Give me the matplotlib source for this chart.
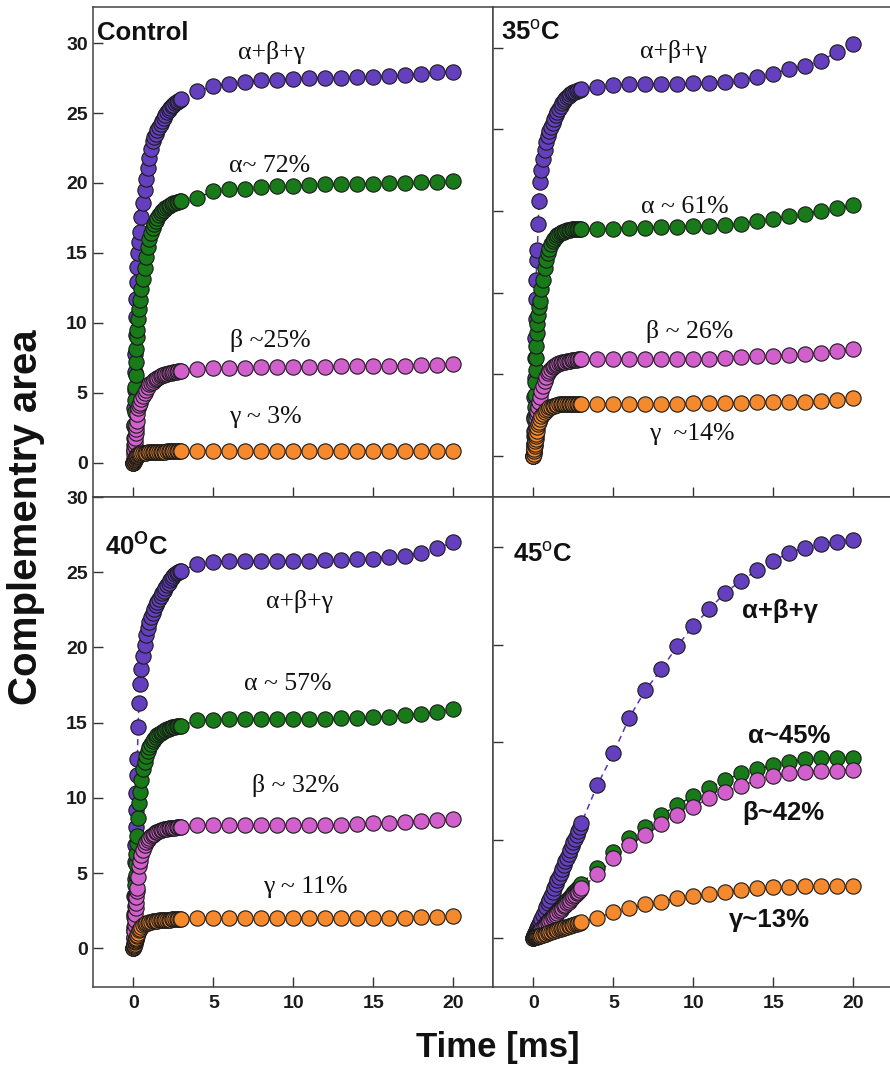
import matplotlib.pyplot as plt

plt.rcParams['font.family'] = ['Liberation Sans', 'DejaVu Sans']
plt.rcParams['mathtext.fontset'] = 'custom'
plt.rcParams['mathtext.rm'] = 'Liberation Sans'
plt.rcParams['mathtext.bf'] = 'Liberation Sans:bold'

# time axis: dense sampling up to 3 ms, then every 1 ms
t_fast = [0.00, 0.02, 0.04, 0.06, 0.08, 0.10, 0.12, 0.14, 0.16, 0.18, 0.20, 0.25, 0.30, 0.35, 0.40,
          0.50, 0.60, 0.70, 0.80, 0.90, 1.00, 1.10, 1.20, 1.30, 1.40, 1.50, 1.60, 1.70, 1.80, 1.90,
          2.00, 2.10, 2.20, 2.30, 2.40, 2.50, 2.60, 2.70, 2.80, 2.90, 3.00]
t_slow = [4, 5, 6, 7, 8, 9, 10, 11, 12, 13, 14, 15, 16, 17, 18, 19, 20]

# Control
ctrl_tot_fast = [0, 1.3, 2.6, 3.9, 5.2, 6.5, 7.8, 9.1, 10.4, 11.7, 12.9, 14.0, 15.0, 15.8, 16.5, 17.6, 18.6, 19.5, 20.3, 21.1,
                 21.8, 22.45, 23.0, 23.25, 23.5, 23.75, 24.0, 24.25, 24.45, 24.65, 24.85, 25.05, 25.2, 25.35, 25.5, 25.6,
                 25.7, 25.78, 25.85, 25.93, 26.0]
ctrl_tot_slow = [26.6, 26.9, 27.1, 27.25, 27.33, 27.38, 27.45, 27.5, 27.5, 27.52, 27.55, 27.6, 27.63, 27.7, 27.8, 27.9, 27.95]
ctrl_a_fast = [0, 0.9, 1.8, 2.7, 3.6, 4.5, 5.4, 6.3, 7.2, 8.1, 9.0, 9.5, 10.3, 11.0, 11.6, 12.4, 13.1, 13.9, 14.7, 15.4,
               16.0, 16.45, 16.8, 17.05, 17.3, 17.5, 17.7, 17.85, 18.0, 18.1, 18.2, 18.28, 18.35, 18.43, 18.5, 18.55,
               18.6, 18.63, 18.65, 18.68, 18.7]
ctrl_a_slow = [18.95, 19.4, 19.55, 19.6, 19.7, 19.8, 19.8, 19.85, 19.9, 19.9, 19.95, 19.95, 20.0, 20.0, 20.05, 20.08, 20.15]
ctrl_b_fast = [0, 0.3, 0.6, 0.9, 1.2, 1.5, 1.8, 2.1, 2.4, 2.7, 3.0, 3.5, 3.9, 4.1, 4.3, 4.55, 4.8, 5.0, 5.2, 5.4,
               5.6, 5.7, 5.8, 5.9, 6.0, 6.08, 6.15, 6.2, 6.25, 6.29, 6.33, 6.37, 6.4, 6.43, 6.45, 6.48,
               6.5, 6.52, 6.54, 6.56, 6.57]
ctrl_b_slow = [6.7, 6.75, 6.8, 6.8, 6.82, 6.84, 6.85, 6.86, 6.87, 6.88, 6.9, 6.91, 6.92, 6.94, 6.96, 6.99, 7.03]
ctrl_g_fast = [0, 0.05, 0.1, 0.15, 0.2, 0.25, 0.3, 0.35, 0.4, 0.45, 0.5, 0.55, 0.6, 0.63, 0.65, 0.68, 0.7, 0.72, 0.73, 0.74,
               0.75, 0.76, 0.77, 0.775, 0.78, 0.785, 0.79, 0.795, 0.8, 0.8, 0.8, 0.805, 0.81, 0.81, 0.81, 0.815,
               0.82, 0.82, 0.82, 0.82, 0.82]
ctrl_g_slow = [0.84, 0.85, 0.85, 0.85, 0.85, 0.85, 0.85, 0.85, 0.85, 0.85, 0.85, 0.86, 0.86, 0.86, 0.86, 0.86, 0.87]

# 35 C
t35_tot_fast = [0, 1.2, 2.4, 3.6, 4.8, 6.0, 7.2, 8.4, 9.6, 10.8, 12.0, 12.6, 14.2, 15.6, 16.8, 17.5, 18.2, 18.7, 19.2, 19.6,
                19.9, 20.15, 20.4, 20.65, 20.85, 21.05, 21.25, 21.45, 21.6, 21.73, 21.85, 21.95, 22.05, 22.13, 22.2, 22.25,
                22.3, 22.35, 22.4, 22.43, 22.45]
t35_tot_slow = [22.6, 22.7, 22.75, 22.75, 22.75, 22.75, 22.8, 22.82, 22.9, 23.0, 23.2, 23.4, 23.7, 23.9, 24.2, 24.75, 25.2]
t35_a_fast = [0, 0.75, 1.5, 2.25, 3.0, 3.75, 4.5, 5.25, 6.0, 6.75, 7.5, 8.1, 8.65, 9.1, 9.5, 10.2, 10.8, 11.5, 12.0, 12.4,
              12.7, 12.95, 13.15, 13.3, 13.4, 13.5, 13.6, 13.65, 13.7, 13.74, 13.78, 13.81, 13.83, 13.85, 13.87, 13.875,
              13.88, 13.885, 13.89, 13.895, 13.9]
t35_a_slow = [13.9, 13.92, 13.97, 13.98, 14.0, 14.02, 14.07, 14.1, 14.15, 14.23, 14.36, 14.5, 14.7, 14.83, 15.0, 15.15, 15.36]
t35_b_fast = [0, 0.25, 0.5, 0.75, 1.0, 1.25, 1.5, 1.75, 2.0, 2.25, 2.5, 2.75, 3.0, 3.3, 3.6, 4.0, 4.3, 4.6, 4.85, 5.05,
              5.2, 5.35, 5.45, 5.52, 5.58, 5.63, 5.67, 5.7, 5.73, 5.76, 5.78, 5.8, 5.82, 5.84, 5.86, 5.875,
              5.89, 5.9, 5.91, 5.92, 5.93]
t35_b_slow = [5.93, 5.95, 5.95, 5.95, 5.95, 5.95, 5.95, 5.95, 6.0, 6.05, 6.1, 6.15, 6.2, 6.25, 6.3, 6.4, 6.56]
t35_g_fast = [0, 0.15, 0.3, 0.45, 0.6, 0.75, 0.9, 1.05, 1.2, 1.35, 1.5, 1.75, 1.95, 2.1, 2.25, 2.45, 2.6, 2.72, 2.82, 2.9,
              2.97, 3.02, 3.06, 3.09, 3.12, 3.14, 3.16, 3.17, 3.18, 3.19, 3.2, 3.2, 3.2, 3.2, 3.2, 3.2,
              3.2, 3.2, 3.2, 3.2, 3.2]
t35_g_slow = [3.2, 3.2, 3.2, 3.2, 3.21, 3.21, 3.22, 3.22, 3.24, 3.27, 3.28, 3.3, 3.32, 3.33, 3.35, 3.4, 3.58]

# 40 C
t40_tot_fast = [0, 1.15, 2.3, 3.45, 4.6, 5.75, 6.9, 8.05, 9.2, 10.35, 11.5, 12.6, 14.7, 16.3, 17.6, 18.6, 19.4, 20.15, 20.8, 21.3,
                21.7, 22.0, 22.3, 22.55, 22.8, 23.0, 23.2, 23.4, 23.6, 23.78, 23.95, 24.13, 24.3, 24.45, 24.6, 24.73,
                24.85, 24.93, 25.0, 25.05, 25.1]
t40_tot_slow = [25.55, 25.7, 25.75, 25.75, 25.75, 25.75, 25.75, 25.75, 25.78, 25.8, 25.85, 25.9, 26.0, 26.1, 26.3, 26.6, 27.0]
t40_a_fast = [0, 0.7, 1.4, 2.1, 2.8, 3.5, 4.2, 4.9, 5.6, 6.3, 7.0, 7.45, 8.67, 9.67, 10.4, 11.2, 11.9, 12.4, 12.8, 13.1,
              13.35, 13.55, 13.75, 13.9, 14.05, 14.15, 14.25, 14.33, 14.4, 14.45, 14.5, 14.55, 14.6, 14.64, 14.68, 14.71,
              14.74, 14.76, 14.78, 14.79, 14.8]
t40_a_slow = [15.17, 15.2, 15.25, 15.25, 15.25, 15.25, 15.25, 15.25, 15.25, 15.28, 15.3, 15.35, 15.4, 15.5, 15.6, 15.7, 15.93]
t40_b_fast = [0, 0.38, 0.76, 1.14, 1.52, 1.9, 2.28, 2.66, 3.04, 3.42, 3.8, 4.0, 4.77, 5.44, 5.8, 6.2, 6.55, 6.85, 7.05, 7.22,
              7.35, 7.45, 7.55, 7.63, 7.7, 7.75, 7.8, 7.84, 7.88, 7.91, 7.94, 7.96, 7.98, 8.0, 8.01, 8.02,
              8.03, 8.04, 8.05, 8.06, 8.07]
t40_b_slow = [8.2, 8.2, 8.2, 8.2, 8.2, 8.2, 8.2, 8.2, 8.2, 8.2, 8.25, 8.33, 8.36, 8.4, 8.45, 8.5, 8.6]
t40_g_fast = [0, 0.08, 0.16, 0.24, 0.32, 0.4, 0.48, 0.56, 0.64, 0.72, 0.8, 0.9, 1.05, 1.2, 1.3, 1.45, 1.55, 1.62, 1.67, 1.71,
              1.74, 1.77, 1.79, 1.81, 1.83, 1.85, 1.86, 1.87, 1.88, 1.89, 1.9, 1.905, 1.91, 1.915, 1.92, 1.925,
              1.93, 1.93, 1.93, 1.935, 1.94]
t40_g_slow = [2.0, 2.0, 2.0, 2.0, 2.0, 2.0, 2.0, 2.0, 2.0, 2.0, 2.02, 2.02, 2.03, 2.04, 2.05, 2.1, 2.15]

# 45 C
t45_tot_fast = [0, 0.04, 0.08, 0.12, 0.16, 0.2, 0.23, 0.27, 0.31, 0.35, 0.39, 0.49, 0.59, 0.68, 0.78, 0.98, 1.17, 1.37, 1.56, 1.76,
                1.95, 2.15, 2.34, 2.54, 2.73, 2.93, 3.12, 3.32, 3.51, 3.71, 3.9, 4.1, 4.29, 4.49, 4.68, 4.88,
                5.07, 5.27, 5.46, 5.66, 5.86]
t45_tot_slow = [7.82, 9.44, 11.27, 12.67, 13.74, 14.94, 15.96, 16.83, 17.67, 18.28, 18.83, 19.3, 19.7, 19.97, 20.16, 20.28, 20.37]
t45_a_fast = [0, 0.02, 0.04, 0.05, 0.07, 0.09, 0.11, 0.13, 0.15, 0.16, 0.18, 0.23, 0.27, 0.32, 0.36, 0.46, 0.55, 0.64, 0.73, 0.82,
              0.91, 1.0, 1.09, 1.18, 1.27, 1.37, 1.46, 1.55, 1.64, 1.73, 1.82, 1.91, 2.0, 2.09, 2.18, 2.28,
              2.37, 2.46, 2.55, 2.64, 2.73]
t45_a_slow = [3.58, 4.4, 5.09, 5.68, 6.28, 6.79, 7.26, 7.68, 8.07, 8.42, 8.62, 8.84, 9.01, 9.13, 9.18, 9.22, 9.22]
t45_b_fast = [0, 0.02, 0.03, 0.05, 0.07, 0.08, 0.1, 0.12, 0.13, 0.15, 0.17, 0.21, 0.25, 0.3, 0.34, 0.42, 0.51, 0.59, 0.67, 0.76,
              0.84, 0.93, 1.01, 1.1, 1.18, 1.27, 1.35, 1.43, 1.52, 1.6, 1.69, 1.77, 1.85, 1.94, 2.02, 2.11,
              2.19, 2.28, 2.36, 2.45, 2.53]
t45_b_slow = [3.24, 4.06, 4.75, 5.26, 5.8, 6.28, 6.71, 7.14, 7.48, 7.77, 8.07, 8.28, 8.42, 8.5, 8.55, 8.55, 8.59]
t45_g_fast = [0, 0.01, 0.01, 0.02, 0.02, 0.03, 0.03, 0.04, 0.04, 0.05, 0.05, 0.07, 0.08, 0.09, 0.11, 0.13, 0.16, 0.19, 0.21, 0.24,
              0.27, 0.29, 0.32, 0.35, 0.37, 0.4, 0.43, 0.45, 0.48, 0.51, 0.53, 0.56, 0.59, 0.61, 0.64, 0.67,
              0.69, 0.72, 0.75, 0.77, 0.8]
t45_g_slow = [1.02, 1.3, 1.5, 1.71, 1.84, 2.02, 2.13, 2.24, 2.36, 2.44, 2.53, 2.58, 2.61, 2.65, 2.65, 2.65, 2.65]

fill_cols = ['#6440bf', '#187a18', '#d260cc', '#f5892d']
line_cols = ['#5a36b4', '#0c3d0c', '#7a2a76', '#6e3a0c']

W, H = 890, 1073
fig = plt.figure(figsize=(W / 100, H / 100), dpi=100)

def box(x0, y0, x1, y1):
    return [x0 / W, 1 - y1 / H, (x1 - x0) / W, (y1 - y0) / H]

panels = [
    dict(rect=box(93.3, 6.7, 493.4, 497), ylim=(-2.45, 32.6), yticks=[0, 5, 10, 15, 20, 25, 30],
         left=True, bottom=False,
         series=[(ctrl_tot_fast, ctrl_tot_slow), (ctrl_a_fast, ctrl_a_slow),
                 (ctrl_b_fast, ctrl_b_slow), (ctrl_g_fast, ctrl_g_slow)],
         title=('Control', -2.25, 30.2),
         labels=[('α+β+γ', 8.64, 28.86), ('α~ 72%', 8.54, 20.8), ('β ~25%', 8.54, 8.3), ('γ ~ 3%', 8.23, 2.82)],
         serif=True),
    dict(rect=box(493.4, 6.7, 893.4, 497), ylim=(-2.51, 27.5), yticks=[0, 5, 10, 15, 20, 25],
         left=False, bottom=False,
         series=[(t35_tot_fast, t35_tot_slow), (t35_a_fast, t35_a_slow),
                 (t35_b_fast, t35_b_slow), (t35_g_fast, t35_g_slow)],
         title=(r'35$^{\mathrm{o}}$C', -2.05, 25.5),
         labels=[('α+β+γ', 8.77, 24.35), ('α ~ 61%', 9.46, 14.86), ('β ~ 26%', 9.74, 7.2), ('γ  ~14%', 9.9, 0.98)],
         serif=True),
    dict(rect=box(93.3, 497, 493.4, 986.7), ylim=(-2.55, 30.0), yticks=[0, 5, 10, 15, 20, 25, 30],
         left=True, bottom=True,
         series=[(t40_tot_fast, t40_tot_slow), (t40_a_fast, t40_a_slow),
                 (t40_b_fast, t40_b_slow), (t40_g_fast, t40_g_slow)],
         title=(r'40$^{\mathbf{O}}$C', -1.77, 26.2),
         labels=[('α+β+γ', 10.36, 22.6), ('α ~ 57%', 9.67, 17.2), ('β ~ 32%', 10.17, 10.4), ('γ ~ 11%', 10.76, 3.66)],
         serif=True),
    dict(rect=box(493.4, 497, 893.4, 986.7), ylim=(-2.51, 22.56), yticks=[0, 5, 10, 15, 20],
         left=False, bottom=True,
         series=[(t45_tot_fast, t45_tot_slow), (t45_a_fast, t45_a_slow),
                 (t45_b_fast, t45_b_slow), (t45_g_fast, t45_g_slow)],
         title=(r'45$^{\mathrm{o}}$C', -1.25, 19.24),
         labels=[('α+β+γ', 15.4, 16.35), ('α~45%', 15.96, 9.95), ('β~42%', 15.6, 6.03), ('γ~13%', 14.77, 0.56)],
         serif=False),
]

for p in panels:
    ax = fig.add_axes(p['rect'])
    ax.set_xlim(-2.5, 22.5)
    ax.set_ylim(*p['ylim'])
    ax.set_facecolor('white')

    for (fast, slow), lc in zip(p['series'], line_cols):
        ax.plot(t_fast + t_slow, fast + slow, ls=(0, (4, 3)), lw=1.1, color=lc, zorder=1)
    for (fast, slow), fc in zip(p['series'], fill_cols):
        ax.plot(t_fast + t_slow, fast + slow, 'o', ms=11, mfc=fc, mec='#1a1a1a', mew=0.8,
                zorder=2, clip_on=False)

    ax.set_xticks([0, 5, 10, 15, 20])
    ax.set_yticks(p['yticks'])
    ax.tick_params(direction='in', length=7, width=1, color='#333333')
    ax.tick_params(axis='x', labelbottom=p['bottom'], pad=6)
    ax.tick_params(axis='y', labelleft=p['left'], pad=4)
    for lab in ax.get_xticklabels() + ax.get_yticklabels():
        lab.set_fontsize(14)
        lab.set_fontweight('bold')
        lab.set_color('#1a1a1a')
    for sp in ax.spines.values():
        sp.set_color('#444444')
        sp.set_linewidth(1.1)

    tt, tx, ty = p['title']
    ax.text(tx, ty, tt, fontsize=18.5, fontweight='bold', ha='left', va='baseline', color='#111111')
    for txt, lx, ly in p['labels']:
        if p['serif']:
            ax.text(lx, ly, txt, fontsize=18.5, family=['Liberation Serif', 'DejaVu Serif'],
                    ha='center', va='baseline', color='#111111')
        else:
            ax.text(lx, ly, txt, fontsize=18.5, fontweight='bold',
                    ha='center', va='baseline', color='#111111')

fig.text(26 / W, 1 - 517 / H, 'Complementry area', rotation=90, fontsize=29, fontweight='bold',
         ha='center', va='center', color='#111111')
fig.text(498 / W, 1 - 1048 / H, 'Time [ms]', fontsize=25, fontweight='bold',
         ha='center', va='center', color='#111111')

fig.savefig('out.png', dpi=100, facecolor='white')
